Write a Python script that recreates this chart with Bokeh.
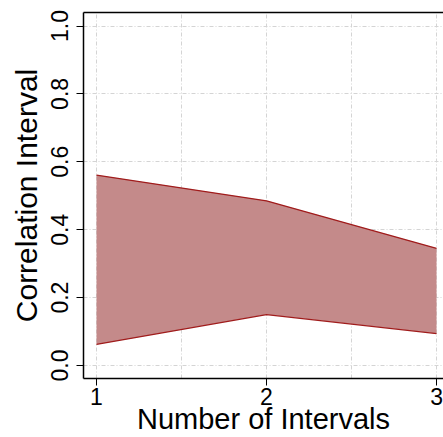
from bokeh.plotting import figure
from bokeh.models import FixedTicker, LinearAxis, Range1d, NumeralTickFormatter, ColumnDataSource
from bokeh.embed import file_html
from bokeh.resources import INLINE

# Data
intervals = [1, 2, 3]
upper = [0.561, 0.485, 0.345]
lower = [0.062, 0.150, 0.094]

x_ticks = [1, 2, 3]
x_minor = [1.5, 2.5]
y_ticks = [0.0, 0.2, 0.4, 0.6, 0.8, 1.0]

src = ColumnDataSource(dict(x=intervals, lo=lower, hi=upper))

FONT = "Liberation Sans"
GRID = "#d4d4d4"

p = figure(width=443, height=437, output_backend="svg", toolbar_location=None,
           x_range=Range1d(0.9235, 3.041), y_range=Range1d(-0.0383, 1.0398),
           min_border_left=83, min_border_right=0, min_border_top=12, min_border_bottom=10)

p.varea(x="x", y1="lo", y2="hi", source=src, fill_color="#c48a8a", fill_alpha=1.0)
p.line(x="x", y="hi", source=src, line_color="#a01c1c", line_width=1.3)
p.line(x="x", y="lo", source=src, line_color="#a01c1c", line_width=1.3)

p.outline_line_color = None

p.xaxis.ticker = FixedTicker(ticks=x_ticks, minor_ticks=x_minor)
p.xaxis.axis_label = "Number of Intervals"
p.yaxis.ticker = FixedTicker(ticks=y_ticks)
p.yaxis.formatter = NumeralTickFormatter(format="0.0")
p.yaxis.axis_label = "Correlation Interval"
p.yaxis.major_label_orientation = "vertical"

for ax in (p.xaxis, p.yaxis):
    ax.axis_line_width = 1.5
    ax.axis_line_color = "black"
    ax.major_tick_in = 0
    ax.major_tick_out = 7
    ax.major_tick_line_color = "black"
    ax.minor_tick_line_color = None
    ax.major_label_text_font = FONT
    ax.major_label_text_font_size = "23px"
    ax.major_label_text_color = "black"
    ax.axis_label_text_font = FONT
    ax.axis_label_text_font_style = "normal"
    ax.axis_label_text_color = "black"

p.xaxis.axis_label_text_font_size = "29px"
p.yaxis.axis_label_text_font_size = "30px"
p.xaxis.major_label_standoff = 2
p.xaxis.axis_label_standoff = -5
p.yaxis.major_label_standoff = 8
p.yaxis.axis_label_standoff = 6

top = LinearAxis(ticker=FixedTicker(ticks=[]), major_tick_line_color=None, minor_tick_line_color=None,
                 major_label_text_font_size="0px", major_label_standoff=0, major_tick_out=0,
                 axis_line_width=1.5, axis_line_color="black")
p.add_layout(top, "above")

p.xgrid.ticker = FixedTicker(ticks=x_ticks, minor_ticks=x_minor)
p.xgrid.grid_line_color = GRID
p.xgrid.grid_line_dash = "4 2 1 2"
p.xgrid.minor_grid_line_color = GRID
p.xgrid.minor_grid_line_dash = "4 2 1 2"
p.ygrid.grid_line_color = GRID
p.ygrid.grid_line_dash = "4 2 1 2"
p.xgrid.level = "underlay"
p.ygrid.level = "underlay"

open("out.html", "w").write(file_html(p, INLINE))
